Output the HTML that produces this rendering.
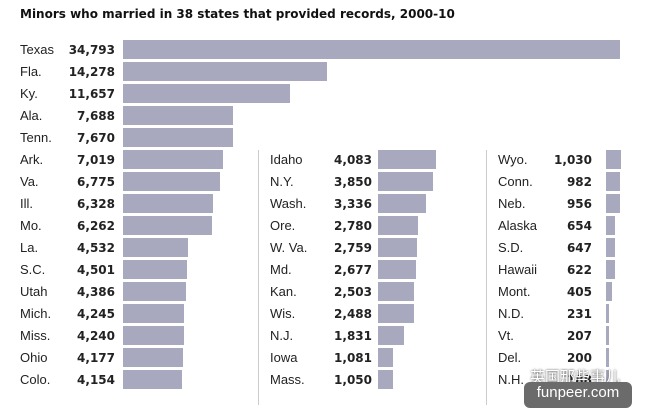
<!DOCTYPE html>
<html><head><meta charset="utf-8"><style>
body{margin:0;width:645px;height:405px;background:#fff;position:relative;overflow:hidden;font-family:"DejaVu Sans","Liberation Sans",sans-serif;color:#222}
.t{position:absolute;left:20px;top:7px;font-weight:bold;font-size:12px;color:#111}
.l{position:absolute;font-size:13px;line-height:20px;font-family:"Liberation Sans",sans-serif}
.n{position:absolute;font-size:12px;font-weight:bold;line-height:21px;text-align:right;width:70px}
.b{position:absolute;height:19px;background:#a8a8be}
.sep{position:absolute;width:1px;background:#ccc;top:150px;height:255px}
.wm{position:absolute;left:524px;top:382px;width:108px;height:26px;background:#6b6b6b;border-radius:6px;color:#fff;font-size:15px;font-family:"Liberation Sans",sans-serif;text-align:center;line-height:22px}
.wm2{position:absolute;left:530px;top:366px;font-size:15px;color:#fff;font-family:"Liberation Sans","Noto Sans CJK SC",sans-serif;text-shadow:0 0 2px #333}
</style></head><body>
<div class="t">Minors who married in 38 states that provided records, 2000-10</div>
<div class="sep" style="left:258px"></div>
<div class="sep" style="left:486px"></div>
<div id="c"></div>
<script>
var s=497/34793;
var cols=[
{lx:20,nx:45,bx:123,start:0,d:[["Texas",34793],["Fla.",14278],["Ky.",11657],["Ala.",7688],["Tenn.",7670],["Ark.",7019],["Va.",6775],["Ill.",6328],["Mo.",6262],["La.",4532],["S.C.",4501],["Utah",4386],["Mich.",4245],["Miss.",4240],["Ohio",4177],["Colo.",4154]]},
{lx:270,nx:302,bx:378,start:5,d:[["Idaho",4083],["N.Y.",3850],["Wash.",3336],["Ore.",2780],["W. Va.",2759],["Md.",2677],["Kan.",2503],["Wis.",2488],["N.J.",1831],["Iowa",1081],["Mass.",1050]]},
{lx:498,nx:522,bx:606,start:5,d:[["Wyo.",1030],["Conn.",982],["Neb.",956],["Alaska",654],["S.D.",647],["Hawaii",622],["Mont.",405],["N.D.",231],["Vt.",207],["Del.",200],["N.H.",188]]}];
var h="";
cols.forEach(function(c){c.d.forEach(function(r,i){var y=40+22*(c.start+i);
h+='<div class="l" style="left:'+c.lx+'px;top:'+y+'px">'+r[0]+'</div>';
h+='<div class="n" style="left:'+c.nx+'px;top:'+y+'px">'+r[1].toLocaleString("en-US")+'</div>';
h+='<div class="b" style="left:'+c.bx+'px;top:'+y+'px;width:'+Math.max(3,Math.round(r[1]*s))+'px"></div>';});});
document.getElementById("c").innerHTML=h;
</script>
<div class="wm2">英国那些事儿</div>
<div class="wm">funpeer.com</div>
</body></html>
